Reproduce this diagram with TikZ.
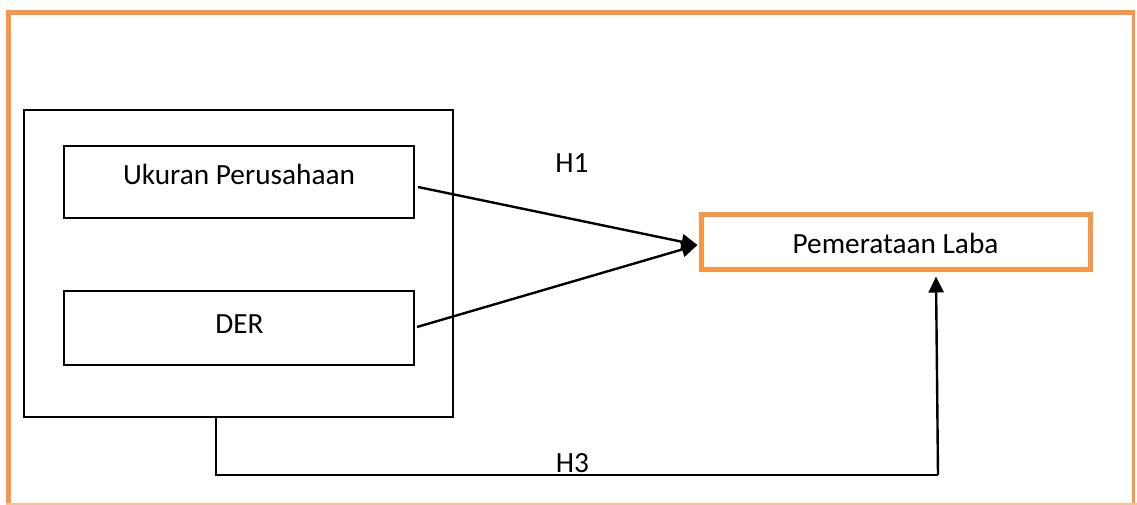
\documentclass[tikz,border=0pt]{standalone}
\usepackage{fontspec}
\setmainfont{Carlito}
\usetikzlibrary{arrows.meta,calc}
\definecolor{accent}{RGB}{247,150,70}
\begin{document}
\begin{tikzpicture}[x=1pt,y=-1pt,
  box/.style={draw=black,line width=1.4pt,inner sep=0pt,outer sep=0pt,anchor=north west},
  hbox/.style={draw=accent,line width=5pt,inner sep=0pt,outer sep=0pt,anchor=north west},
  txt/.style={inner sep=0pt,anchor=base,font=\fontsize{29.3}{33}\selectfont},
  link/.style={draw=black,line width=2.4pt,-{Triangle[length=16pt,width=15pt]}},
  plain/.style={draw=black,line width=1.8pt}]
  \useasboundingbox (0,0) rectangle (1137,504);
  % page frame
  \draw[accent,line width=5pt] (8.5,504) -- (8.5,12.5) -- (1133,12.5);
  \draw[accent,line width=2.5pt] (1133.5,10) -- (1133.5,504);
  \draw[accent!60,line width=2pt] (6,503.5) -- (1137,503.5);
  % independent variables
  \node[box,minimum width=429,minimum height=307] (outer) at (24,110) {};
  \node[box,minimum width=350,minimum height=72] (u) at (64,146) {};
  \node[box,minimum width=350,minimum height=74] (d) at (64,291) {};
  \node[txt] (ut) at (239,184) {Ukuran Perusahaan};
  \node[txt] (dt) at (239.5,333) {DER};
  % dependent variable
  \node[hbox,minimum width=389,minimum height=55] (pl) at (701.5,214.5) {};
  \node[txt] (pt) at (895.5,253) {Pemerataan Laba};
  % hypothesis labels
  \node[txt] (h1) at (572,172) {H1};
  \node[txt] (h3) at (572.5,472) {H3};
  % connectors
  \coordinate (tip) at ($(pl.west)+(-4,3)$);
  \draw[link] ($(u.east)+(4,5)$) -- (tip);
  \draw[link] ($(d.east)+(3,-1)$) -- (tip);
  \coordinate (drop) at ($(outer.south west)+(192,0)$);
  \coordinate (turn) at ($(drop)+(0,58)$);
  \coordinate (rise) at ($(pl.south west)+(236.5,205.5)$);
  \draw[plain] (drop) -- (turn) -- (rise);
  \draw[link] (rise) -- ($(pl.south west)+(234.5,7)$);
\end{tikzpicture}
\end{document}
